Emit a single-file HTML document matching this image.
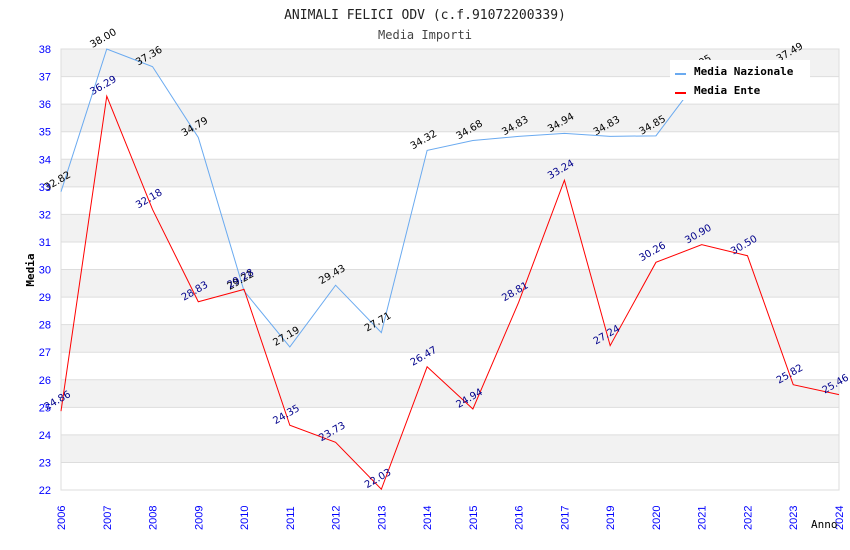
<!DOCTYPE html>
<html><head><meta charset="utf-8"><style>
body{margin:0;background:#fff}
svg{display:block;font-family:"DejaVu Sans Mono","Liberation Mono",monospace}
</style></head><body>
<svg id="c" width="850" height="550"></svg>
<script>
const categories=["2006","2007","2008","2009","2010","2011","2012","2013","2014","2015","2016","2017","2019","2020","2021","2022","2023","2024"];
const nazionale=[32.82,38.00,37.36,34.79,29.22,27.19,29.43,27.71,34.32,34.68,34.83,34.94,34.83,34.85,37.05,null,37.49,null];
const ente=[24.86,36.29,32.18,28.83,29.28,24.35,23.73,22.03,26.47,24.94,28.81,33.24,27.24,30.26,30.90,30.50,25.82,25.46];
const yTicks=[22,23,24,25,26,27,28,29,30,31,32,33,34,35,36,37,38];
const X0=61,X1=839,Y0=490,Y1=49,ymin=22,ymax=38;
const xs=i=>X0+i*(X1-X0)/(categories.length-1);
const ys=v=>Y0-(v-ymin)*(Y0-Y1)/(ymax-ymin);
const svg=document.getElementById('c');const NS='http://www.w3.org/2000/svg';
function mk(t,a,p){const e=document.createElementNS(NS,t);for(const k in a)e.setAttribute(k,a[k]);(p||svg).appendChild(e);return e;}
let e;
for(let i=0;i<yTicks.length-1;i++){
 e=mk('rect',{x:X0,y:ys(yTicks[i+1]),width:X1-X0,height:ys(yTicks[i])-ys(yTicks[i+1]),fill:i%2?'#f2f2f2':'#fff'});
 
}
yTicks.forEach(v=>{
 e=mk('line',{x1:X0,x2:X1,y1:ys(v),y2:ys(v),stroke:'#ddd'});
 
 e=mk('text',{x:X0-10,y:ys(v)+4,'text-anchor':'end','font-size':11,fill:'#00f','font-family':'Liberation Sans,sans-serif'});e.textContent=v;
 
});
mk('rect',{x:X0,y:Y1,width:X1-X0,height:Y0-Y1,fill:'none',stroke:'#ddd'});
categories.forEach((c,i)=>{
 e=mk('text',{transform:`translate(${xs(i)+4},${Y0+40}) rotate(-90)`,'font-size':11,fill:'#00f','font-family':'Liberation Sans,sans-serif'});e.textContent=c;
 
});
function series(d,col,lab,name){
 let p='',pen=false;
 d.forEach((v,i)=>{if(v==null){pen=false;return;} const nx=i+1<d.length?d[i+1]:null;
  if(!pen){ if(nx==null)return; p+=`M${xs(i)},${ys(v)}`;pen=true;} else p+=`L${xs(i)},${ys(v)}`;});
 e=mk('path',{d:p,fill:'none',stroke:col,'stroke-width':1});
 
 d.forEach((v,i)=>{if(v==null)return;
  e=mk('text',{transform:`translate(${xs(i)-2},${ys(v)-8}) rotate(-30)`,'text-anchor':'middle','font-size':10,fill:lab,'font-family':'DejaVu Sans,sans-serif'});e.textContent=v.toFixed(2);
  });
}
series(nazionale,'#6aaaf0','#000','media-nazionale');
series(ente,'#f00','#00008b','media-ente');
e=mk('rect',{x:670,y:60,width:140,height:40,fill:'#fff'});
[['Media Nazionale','#6aaaf0',71],['Media Ente','#f00',90]].forEach(([t,c,y])=>{
 e=mk('line',{x1:675,x2:686,y1:y+3,y2:y+3,stroke:c,'stroke-width':2});
 e=mk('text',{x:694,y:y+4,'font-size':11,'font-weight':'bold'});e.textContent=t;
});
e=mk('text',{x:425,y:19,'text-anchor':'middle','font-size':13,fill:'#222'});e.textContent='ANIMALI FELICI ODV (c.f.91072200339)';
e=mk('text',{x:425,y:39,'text-anchor':'middle','font-size':12,fill:'#444'});e.textContent='Media Importi';
e=mk('text',{transform:'translate(34,270) rotate(-90)','text-anchor':'middle','font-size':11,'font-weight':'bold'});e.textContent='Media';
e=mk('text',{x:811,y:528,'font-size':11});e.textContent='Anno';
</script>
</body></html>
